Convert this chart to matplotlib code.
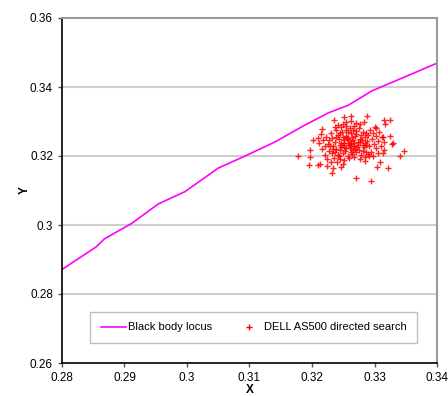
import matplotlib
matplotlib.use("Agg")
import matplotlib.pyplot as plt
from matplotlib.lines import Line2D

plt.rcParams['font.family'] = ['Liberation Sans', 'DejaVu Sans']

# Black body locus
locus_x = [0.2800, 0.2855, 0.2868, 0.2911, 0.2954, 0.2997, 0.3050, 0.3093,
           0.3141, 0.3184, 0.3226, 0.3258, 0.3296, 0.3317, 0.3400]
locus_y = [0.2871, 0.2937, 0.2960, 0.3004, 0.3061, 0.3097, 0.3165, 0.3200,
           0.3241, 0.3285, 0.3325, 0.3347, 0.3389, 0.3405, 0.3469]

# DELL AS500 directed search points (x, y)
search_points = [
    (0.3177, 0.3201), (0.3196, 0.3173), (0.3209, 0.3173), (0.3213, 0.3177),
    (0.3224, 0.3171), (0.3232, 0.3152), (0.3233, 0.3165), (0.3246, 0.3169),
    (0.3271, 0.3137), (0.3295, 0.3127), (0.3304, 0.3169), (0.3322, 0.3166),
    (0.3309, 0.3182), (0.3284, 0.3185), (0.3340, 0.3201), (0.3348, 0.3215),
    (0.3314, 0.3208), (0.3328, 0.3234), (0.3325, 0.3258), (0.3313, 0.3256),
    (0.3325, 0.3304), (0.3315, 0.3304), (0.3317, 0.3294), (0.3303, 0.3281),
    (0.3288, 0.3316), (0.3283, 0.3299), (0.3263, 0.3316), (0.3251, 0.3312),
    (0.3235, 0.3304), (0.3201, 0.3246), (0.3197, 0.3217), (0.3197, 0.3198),
    (0.3216, 0.3277), (0.3291, 0.3200), (0.3306, 0.3209), (0.3329, 0.3237),
    (0.3232, 0.3251), (0.3241, 0.3262), (0.3248, 0.3270), (0.3255, 0.3258),
    (0.3262, 0.3266), (0.3270, 0.3273), (0.3278, 0.3262), (0.3285, 0.3255),
    (0.3236, 0.3240), (0.3244, 0.3232), (0.3251, 0.3245), (0.3258, 0.3238),
    (0.3266, 0.3247), (0.3273, 0.3240), (0.3281, 0.3233), (0.3288, 0.3244),
    (0.3229, 0.3228), (0.3238, 0.3219), (0.3246, 0.3225), (0.3253, 0.3214),
    (0.3260, 0.3222), (0.3267, 0.3229), (0.3275, 0.3218), (0.3283, 0.3225),
    (0.3232, 0.3208), (0.3241, 0.3203), (0.3249, 0.3210), (0.3257, 0.3199),
    (0.3264, 0.3207), (0.3271, 0.3212), (0.3279, 0.3204), (0.3287, 0.3213),
    (0.3226, 0.3236), (0.3234, 0.3229), (0.3243, 0.3248), (0.3250, 0.3231),
    (0.3256, 0.3251), (0.3263, 0.3236), (0.3269, 0.3259), (0.3276, 0.3250),
    (0.3284, 0.3238), (0.3291, 0.3229), (0.3239, 0.3274), (0.3247, 0.3283),
    (0.3254, 0.3276), (0.3261, 0.3281), (0.3268, 0.3287), (0.3275, 0.3280),
    (0.3282, 0.3271), (0.3230, 0.3266), (0.3223, 0.3255), (0.3227, 0.3215),
    (0.3235, 0.3195), (0.3245, 0.3191), (0.3252, 0.3187), (0.3259, 0.3193),
    (0.3268, 0.3196), (0.3276, 0.3190), (0.3240, 0.3182), (0.3249, 0.3178),
    (0.3237, 0.3213), (0.3244, 0.3217), (0.3252, 0.3227), (0.3259, 0.3232),
    (0.3265, 0.3217), (0.3272, 0.3225), (0.3280, 0.3247), (0.3286, 0.3231),
    (0.3290, 0.3260), (0.3296, 0.3248), (0.3299, 0.3235), (0.3302, 0.3222),
    (0.3295, 0.3212), (0.3303, 0.3258), (0.3306, 0.3244), (0.3218, 0.3246),
    (0.3220, 0.3230), (0.3216, 0.3221), (0.3212, 0.3238), (0.3209, 0.3252),
    (0.3214, 0.3264), (0.3221, 0.3204), (0.3224, 0.3190), (0.3231, 0.3184),
    (0.3254, 0.3298), (0.3262, 0.3302), (0.3249, 0.3293), (0.3270, 0.3296),
    (0.3277, 0.3293), (0.3244, 0.3266), (0.3257, 0.3269), (0.3264, 0.3256),
    (0.3271, 0.3265), (0.3287, 0.3268), (0.3293, 0.3275), (0.3298, 0.3266),
    (0.3228, 0.3246), (0.3252, 0.3239), (0.3260, 0.3244), (0.3267, 0.3238),
    (0.3274, 0.3232), (0.3247, 0.3237), (0.3255, 0.3222), (0.3262, 0.3228),
    (0.3269, 0.3220), (0.3243, 0.3200), (0.3262, 0.3212), (0.3233, 0.3221),
    (0.3281, 0.3215), (0.3289, 0.3205), (0.3297, 0.3200), (0.3284, 0.3196),
    (0.3239, 0.3254), (0.3258, 0.3249), (0.3249, 0.3256), (0.3277, 0.3241),
    (0.3266, 0.3275), (0.3254, 0.3287), (0.3242, 0.3290), (0.3236, 0.3283),
    (0.3300, 0.3283), (0.3308, 0.3270), (0.3312, 0.3256), (0.3315, 0.3241),
    (0.3310, 0.3228), (0.3316, 0.3218),
]
search_x = [p[0] for p in search_points]
search_y = [p[1] for p in search_points]

x_ticks = [0.28, 0.29, 0.30, 0.31, 0.32, 0.33, 0.34]
x_tick_labels = ["0.28", "0.29", "0.3", "0.31", "0.32", "0.33", "0.34"]
y_ticks = [0.26, 0.28, 0.30, 0.32, 0.34, 0.36]
y_tick_labels = ["0.26", "0.28", "0.3", "0.32", "0.34", "0.36"]

fig = plt.figure(figsize=(4.48, 3.96), dpi=100)
ax = fig.add_axes([62/448, 33/396, 375/448, 345/396])

for yv in y_ticks[1:-1]:
    ax.axhline(yv, color='#cfcfcf', lw=1.5, zorder=0)

ax.plot(locus_x, locus_y, color='#ff00ff', lw=1.2, zorder=2, label='Black body locus')
ax.plot(search_x, search_y, linestyle='none', marker='+', color='#ff0000',
        ms=5, mew=1.0, alpha=0.85, zorder=3, label='DELL AS500 directed search')

ax.set_xlim(0.28, 0.34)
ax.set_ylim(0.26, 0.36)
ax.set_xticks(x_ticks)
ax.set_xticklabels(x_tick_labels, fontsize=8.5)
ax.set_yticks(y_ticks)
ax.set_yticklabels(y_tick_labels, fontsize=8.5)
ax.tick_params(direction='out', length=3, width=1, color='#555555', pad=3.5)

ax.spines['left'].set_color('black')
ax.spines['bottom'].set_color('black')
ax.spines['left'].set_linewidth(1.2)
ax.spines['bottom'].set_linewidth(1.2)
ax.spines['top'].set_color('#999999')
ax.spines['right'].set_color('#999999')
ax.spines['top'].set_linewidth(1.5)
ax.spines['right'].set_linewidth(1.5)

ax.set_xlabel('X', fontsize=8.5, fontweight='bold')
ax.set_ylabel('Y', fontsize=8.5, fontweight='bold')
ax.xaxis.set_label_coords(0.5, -0.062)
ax.yaxis.set_label_coords(-0.083, 0.5)

handles = [Line2D([0], [0], color='#ff00ff', lw=1.2),
           Line2D([0], [0], linestyle='none', marker='+', color='#ff0000', ms=4, mew=1.0)]
leg = ax.legend(handles, ['Black body locus', 'DELL AS500 directed search'],
                loc='lower left', bbox_to_anchor=(0.075, 0.058, 0.872, 0.09),
                mode='expand', ncol=2, fontsize=8, frameon=True, fancybox=False,
                edgecolor='#b0b0b0', borderaxespad=0, handlelength=2.3,
                handletextpad=0.2, columnspacing=2.0, borderpad=0.95)
leg.get_frame().set_linewidth(1.0)

fig.savefig('out.png', dpi=100)
